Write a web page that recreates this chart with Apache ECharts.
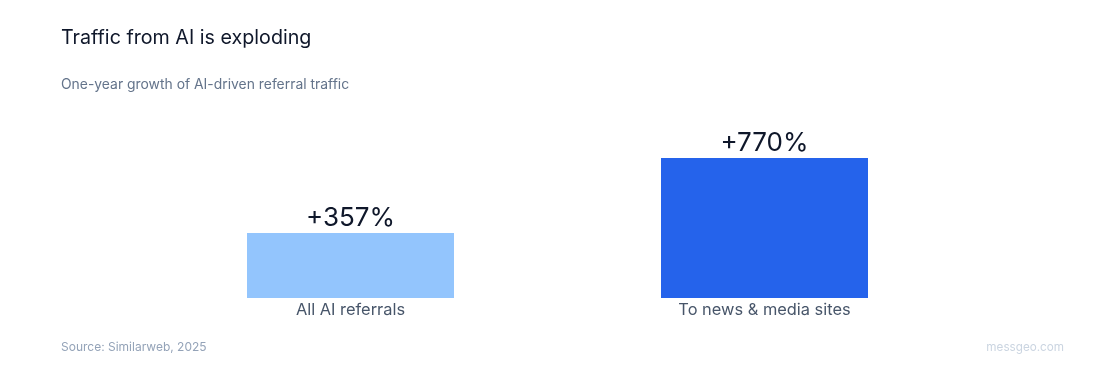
<!DOCTYPE html>
<html><head><meta charset="utf-8">
<script src="https://cdn.jsdelivr.net/npm/echarts@6/dist/echarts.min.js"></script>
<style>html,body{margin:0;padding:0;background:#fff}#c{width:1104px;height:372px}</style>
</head><body><div id="c"></div>
<script>
const categories = ['All AI referrals', 'To news & media sites'];
const values = [357, 770];
const barColors = ['#93c5fd', '#2563eb'];

const F = 'Inter, "Noto Sans", sans-serif';
const chart = echarts.init(document.getElementById('c'));
chart.setOption({
  animation: false,
  backgroundColor: '#ffffff',
  title: [
    {text: 'Traffic from AI is exploding', left: 56, top: 23, textStyle: {fontFamily: F, fontSize: 19.7, fontWeight: 400, color: '#0f172a'}},
    {text: 'One-year growth of AI-driven referral traffic', left: 56, top: 72.5, textStyle: {fontFamily: F, fontSize: 13.9, fontWeight: 400, color: '#64748b'}},
    {text: 'Source: Similarweb, 2025', left: 56, top: 336, textStyle: {fontFamily: F, fontSize: 12, fontWeight: 400, color: '#94a3b8'}},
    {text: 'messgeo.com', right: 35, top: 336, textStyle: {fontFamily: F, fontSize: 11.7, fontWeight: 400, color: '#cbd5e1'}}
  ],
  grid: {left: 143.5, right: 132.5, top: 158, bottom: 74},
  xAxis: {
    type: 'category', data: categories,
    axisLine: {show: false}, axisTick: {show: false},
    axisLabel: {fontFamily: F, fontSize: 16.4, color: '#475569', margin: 4}
  },
  yAxis: {type: 'value', min: 0, max: 770, show: false, splitLine: {show: false}},
  series: [{
    type: 'bar', barWidth: 207,
    data: values.map((v, i) => ({value: v, itemStyle: {color: barColors[i]}})),
    label: {show: true, position: 'top', distance: 2, fontFamily: F, fontSize: 26, color: '#0f172a',
      formatter: p => '+' + p.value + '%'}
  }]
});
</script></body></html>
